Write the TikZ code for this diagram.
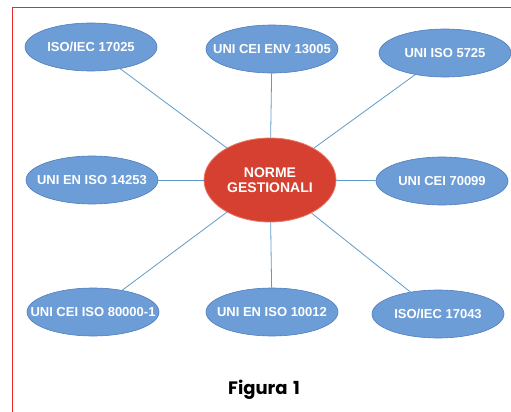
\documentclass[tikz,border=0pt]{standalone}
\usepackage{fontspec}
\setmainfont{Liberation Sans}
\newfontfamily\captionfont{Poppins}
\usetikzlibrary{shapes.geometric}
\definecolor{normblue}{RGB}{108,157,214}
\definecolor{normblueedge}{RGB}{80,125,190}
\definecolor{normred}{RGB}{214,64,48}
\definecolor{normrededge}{RGB}{235,120,100}
\definecolor{linkblue}{RGB}{95,155,200}
\definecolor{framered}{RGB}{235,40,40}
% label of zero width, so the ellipse keeps its fixed size
\newcommand\stdlabel[1]{\makebox[0pt]{#1}}
\begin{document}
\begin{tikzpicture}[x=1pt,y=-1pt,
  standard/.style={ellipse, fill=normblue, draw=normblueedge, line width=0.6pt,
    minimum width=132pt, minimum height=48pt, inner sep=0pt,
    text=white, font=\bfseries\fontsize{13}{14}\selectfont},
  hub/.style={ellipse, fill=normred, draw=normrededge, line width=0.8pt,
    minimum width=132pt, minimum height=84pt, inner sep=0pt, align=center,
    text=white, font=\bfseries\fontsize{14}{15.5}\selectfont},
  link/.style={draw=linkblue, line width=0.8pt}]
  \useasboundingbox (0,0) rectangle (511,412);
  % frame
  \draw[framered, line width=1pt] (12,412) -- (12,8) -- (511,8);
  % centre
  \node[hub] (hub) at (270,180) {\stdlabel{NORME}\\\stdlabel{GESTIONALI}};
  % standards
  \node[standard] (s1) at (91,47)  {\stdlabel{ISO/IEC 17025}};
  \node[standard] (s2) at (272,49) {\stdlabel{UNI CEI ENV 13005}};
  \node[standard] (s3) at (445,53) {\stdlabel{UNI ISO 5725}};
  \node[standard] (s4) at (92,180) {\stdlabel{UNI EN ISO 14253}};
  \node[standard] (s5) at (442,181) {\stdlabel{UNI CEI 70099}};
  \node[standard] (s6) at (93,312) {\stdlabel{UNI CEI ISO 80000-1}};
  \node[standard] (s7) at (272,312) {\stdlabel{UNI EN ISO 10012}};
  \node[standard] (s8) at (438,314) {\stdlabel{ISO/IEC 17043}};
  % connectors
  \foreach \s in {s1,s2,s3,s4,s5,s6,s7,s8}
    \draw[link] (hub) -- (\s);
  % caption
  \node[font=\captionfont\bfseries\fontsize{18}{22}\selectfont] (cap) at (264,390) {Figura\hspace{0.3em}1};
\end{tikzpicture}
\end{document}
